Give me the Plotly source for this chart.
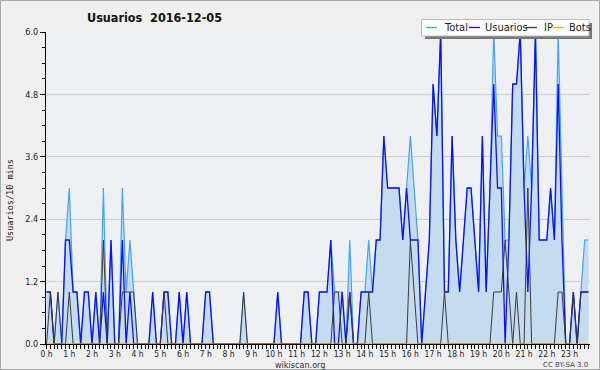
import plotly.graph_objects as go

# ---- data (10-minute slots, 2016-12-05) ----
slots = list(range(144))
usuarios = [1,1,0,0,0,2,2,1,1,0,
            1,1,0,1,0,1,0,2,0,0,
            2,0,1,0,0,0,0,0,1,0,
            0,1,1,0,0,1,0,1,0,0,
            0,0,1,1,0,0,0,0,0,0,
            0,0,0,0,0,0,0,0,0,0,
            0,1,0,0,0,0,0,0,1,1,
            0,0,1,1,1,2,0,0,1,0,
            1,0,0,1,1,1,1,2,2,4,
            3,3,3,3,2,3,2,2,2,0,
            1,2,5,4,6,1,1,4,2,1,
            2,3,3,2,1,4,1,3,5,3,
            3,0,2,5,5,6,3,1,3,6,
            2,2,2,3,2,5,2,0,0,1,
            0,1,1,1]
ip = [0,1,0,1,0,0,1,0,0,0,
      0,0,0,0,0,2,0,0,0,0,
      1,1,1,1,0,0,0,0,0,0,
      0,1,0,0,0,0,0,0,0,0,
      0,0,0,0,0,0,0,0,0,0,
      0,0,1,0,0,0,0,0,0,0,
      0,0,0,0,0,0,0,0,0,0,
      0,0,0,0,0,0,1,1,0,0,
      1,0,0,0,0,1,0,0,0,0,
      0,0,0,0,0,0,2,1,0,0,
      0,0,0,0,0,1,0,0,0,0,
      0,0,0,0,0,0,0,0,1,1,
      1,2,1,0,1,0,0,3,0,0,
      0,0,0,0,0,1,1,0,0,1,
      0,1,1,1]
total = [1,1,0,1,0,2,3,1,1,0,
         1,1,0,1,0,3,0,2,0,0,
         3,1,2,1,0,0,0,0,1,0,
         0,1,1,0,0,1,0,1,0,0,
         0,0,1,1,0,0,0,0,0,0,
         0,0,1,0,0,0,0,0,0,0,
         0,1,0,0,0,0,0,0,1,1,
         0,0,1,1,1,2,1,1,1,0,
         2,0,0,1,1,2,1,2,2,4,
         3,3,3,3,2,3,4,3,2,0,
         1,2,5,4,6,1,1,4,2,1,
         2,3,3,2,1,4,1,3,6,4,
         4,2,2,5,5,6,3,4,3,6,
         2,2,2,3,2,6,3,0,0,1,
         0,1,2,2]
bots = [0]*144

hour_ticks = [0,6,12,18,24,30,36,42,48,54,60,66,72,78,84,90,96,102,108,114,120,126,132,138]
hour_labels = ["0 h","1 h","2 h","3 h","4 h","5 h","6 h","7 h","8 h","9 h","10 h","11 h",
               "12 h","13 h","14 h","15 h","16 h","17 h","18 h","19 h","20 h","21 h","22 h","23 h"]
y_ticks = [0.0, 1.2, 2.4, 3.6, 4.8, 6.0]
y_labels = ["0.0", "1.2", "2.4", "3.6", "4.8", "6.0"]

C_TOTAL = "#45a3ff"
C_FILL = "#c4dbf0"
C_USER = "#0a10ff"
C_IP = "#3a3a3a"
C_BOTS = "#ffa500"
COND = "DejaVu Sans Condensed, DejaVu Sans"

fig = go.Figure()
fig.add_trace(go.Scatter(x=slots, y=total, mode="lines", name="Total",
                         line=dict(color=C_TOTAL, width=1.2), fill="tozeroy",
                         fillcolor=C_FILL, showlegend=False))
fig.add_trace(go.Scatter(x=slots, y=usuarios, mode="lines", name="Usuarios",
                         line=dict(color=C_USER, width=1.3), showlegend=False))
fig.add_trace(go.Scatter(x=slots, y=ip, mode="lines", name="IP",
                         line=dict(color=C_IP, width=1), showlegend=False))
fig.add_trace(go.Scatter(x=slots, y=bots, mode="lines", name="Bots",
                         line=dict(color=C_BOTS, width=1), showlegend=False))

W, H = 600, 370
L, R, T, B = 46, 10, 32, 26
pw, ph = W - L - R, H - T - B

def px(x):
    return (x - L) / pw

def py(y):
    return (H - B - y) / ph

shapes = []
# outer frame
shapes.append(dict(type="rect", xref="paper", yref="paper", x0=px(0.5), x1=px(599.5),
                   y0=py(369.5), y1=py(0.5), line=dict(color="#a8a8a8", width=1), layer="below"))
# legend box shadow + box
shapes.append(dict(type="rect", xref="paper", yref="paper", x0=px(425), x1=px(592),
                   y0=py(39), y1=py(23), fillcolor="#777777", line=dict(width=0)))
shapes.append(dict(type="rect", xref="paper", yref="paper", x0=px(421.5), x1=px(589),
                   y0=py(36), y1=py(19.5), fillcolor="#ffffff",
                   line=dict(color="#bbbbbb", width=1)))
legend_items = [("Total", C_TOTAL, 426, 442), ("Usuarios", C_USER, 469, 483),
                ("IP", C_IP, 526, 542), ("Bots", C_BOTS, 553, 567)]
annotations = []
for name, col, lx, tx in legend_items:
    shapes.append(dict(type="line", xref="paper", yref="paper", x0=px(lx), x1=px(lx + 11),
                       y0=py(27.5), y1=py(27.5), line=dict(color=col, width=1.3)))
    annotations.append(dict(text=name, xref="paper", yref="paper", x=px(tx), y=py(27.5),
                            xanchor="left", yanchor="middle", showarrow=False,
                            font=dict(family=COND, size=11, color="#222222")))

annotations.append(dict(text="<b>Usuarios  2016-12-05</b>", xref="paper", yref="paper",
                        x=px(85), y=py(18), xanchor="left", yanchor="middle", showarrow=False,
                        font=dict(family=COND, size=12.5, color="#111111")))
annotations.append(dict(text="wikiscan.org", xref="paper", yref="paper", x=px(300), y=py(364.5),
                        xanchor="center", yanchor="middle", showarrow=False,
                        font=dict(family=COND, size=9, color="#333333")))
annotations.append(dict(text="CC BY-SA 3.0", xref="paper", yref="paper", x=px(590), y=py(364.5),
                        xanchor="right", yanchor="middle", showarrow=False,
                        font=dict(family="DejaVu Sans", size=7, color="#444444")))
annotations.append(dict(text="Usuarios/10 mins", xref="paper", yref="paper", x=px(10), y=py(200),
                        xanchor="center", yanchor="middle", textangle=-90, showarrow=False,
                        font=dict(family="DejaVu Sans Mono", size=8.5, color="#222222")))

fig.update_layout(
    width=W, height=H,
    margin=dict(l=L, r=R, t=T, b=B, autoexpand=False),
    paper_bgcolor="#f0f0f0",
    plot_bgcolor="#eef0f3",
    showlegend=False,
    shapes=shapes,
    annotations=annotations,
    xaxis=dict(range=[-0.15, 143.4], tickmode="array", tickvals=hour_ticks, ticktext=hour_labels,
               ticks="outside", ticklen=2, tickcolor="#000000", tickwidth=1, automargin=False,
               minor=dict(dtick=1, tick0=0, ticks="outside", ticklen=4, tickcolor="#000000"),
               showline=True, linecolor="#000000", linewidth=1, showgrid=False, zeroline=False,
               tickfont=dict(family=COND, size=8.5, color="#222222"), fixedrange=True),
    yaxis=dict(range=[0, 6.0], tickmode="array", tickvals=y_ticks, ticktext=y_labels,
               ticks="outside", ticklen=5, tickcolor="#000000", automargin=False,
               minor=dict(dtick=0.3, tick0=0, ticks="outside", ticklen=3, tickcolor="#000000",
                          showgrid=False),
               showline=True, linecolor="#000000", linewidth=1, showgrid=True,
               gridcolor="#cccccc", gridwidth=1, zeroline=False,
               tickfont=dict(family=COND, size=9, color="#222222"), fixedrange=True),
)

fig.write_html("out.html", config={"displayModeBar": False},
               post_script="document.body.style.margin='0';document.body.style.overflow='hidden';")
